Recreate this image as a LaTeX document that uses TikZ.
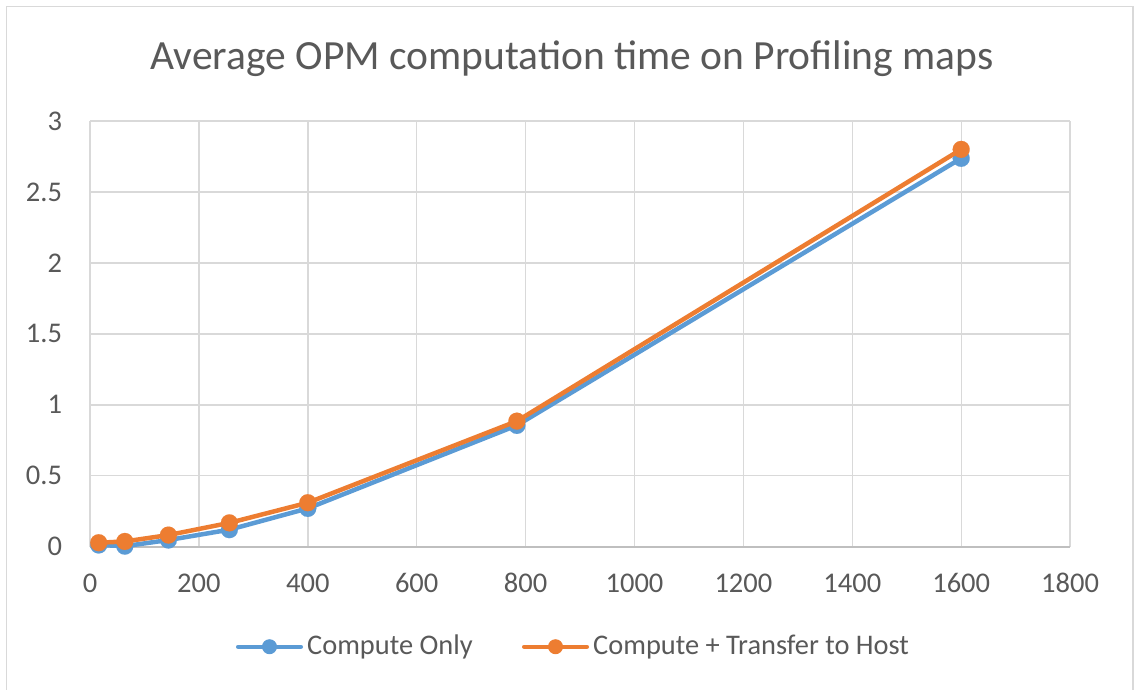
\documentclass[tikz,border=0pt]{standalone}
\usepackage{fontspec}
\setmainfont{Carlito}
\definecolor{txt}{HTML}{595959}
\definecolor{grid}{HTML}{D9D9D9}
\definecolor{axisc}{HTML}{BFBFBF}
\definecolor{serA}{HTML}{5B9BD5}
\definecolor{serB}{HTML}{ED7D31}
\tikzset{
  gridline/.style={draw=grid, line width=1.4pt},
  axisline/.style={draw=axisc, line width=1.6pt},
  ticklab/.style={text=txt, font=\fontsize{28.5}{30}\selectfont, inner sep=0pt},
  legtext/.style={text=txt, font=\fontsize{28.4}{30}\selectfont, inner sep=0pt, anchor=west},
  seriesA/.style={draw=serA, line width=4.5pt, line join=round, line cap=round, mark=*, mark size=8.5pt, mark options={fill=serA, draw=serA, line width=0.1pt}},
  seriesB/.style={draw=serB, line width=4.5pt, line join=round, line cap=round, mark=*, mark size=8.5pt, mark options={fill=serB, draw=serB, line width=0.1pt}},
}
\begin{document}
\begin{tikzpicture}[x=1pt,y=-1pt]
\useasboundingbox (0,0) rectangle (1136,689);
\fill[white] (0,0) rectangle (1136,689);
% outer frame
\draw[draw=grid, line width=1.5pt] (6.5,700) -- (6.5,6.5) -- (1133,6.5) -- (1133,700);
% title
\node[text=txt, font=\fontsize{41.5}{44}\selectfont, inner sep=0pt] (title) at (572,59) {Average OPM computation time on Profiling maps};
\begin{scope}[xshift=90pt, yshift=-546.7pt, x=0.5445pt, y=141.9pt]
  % grid
  \foreach \v in {0,200,...,1800} {
    \draw[gridline] (\v,0) -- (\v,3);
    \node[ticklab] (xt\v) at (\v,-0.257) {\v};
  }
  \foreach \v in {0.5,1,1.5,2,2.5,3} {
    \draw[gridline] (0,\v) -- (1800,\v);
  }
  \foreach \v in {0,0.5,1,1.5,2,2.5,3} {
    \node[ticklab, anchor=east] (yt\v) at (-51,\v) {\v};
  }
  \draw[axisline] (0,0) -- (1800,0);
  % series
  \draw[seriesA] plot coordinates {(16,0.012) (64,0.004) (144,0.047) (256,0.12) (400,0.27) (784,0.855) (1600,2.737)};
  \draw[seriesB] plot coordinates {(16,0.028) (64,0.037) (144,0.082) (256,0.168) (400,0.31) (784,0.885) (1600,2.80)};
\end{scope}
% legend
\coordinate (la1) at (238,646.7);
\coordinate (la2) at (301,646.7);
\draw[serA, line width=4pt, line cap=round] (la1) -- (la2);
\fill[serA] (269.5,646.7) circle (7.5pt);
\node[legtext] (legA) at (307,647) {Compute Only};
\coordinate (lb1) at (524,646.7);
\coordinate (lb2) at (587,646.7);
\draw[serB, line width=4pt, line cap=round] (lb1) -- (lb2);
\fill[serB] (555.5,646.7) circle (7.5pt);
\node[legtext] (legB) at (593,647) {Compute + Transfer to Host};
\end{tikzpicture}
\end{document}
